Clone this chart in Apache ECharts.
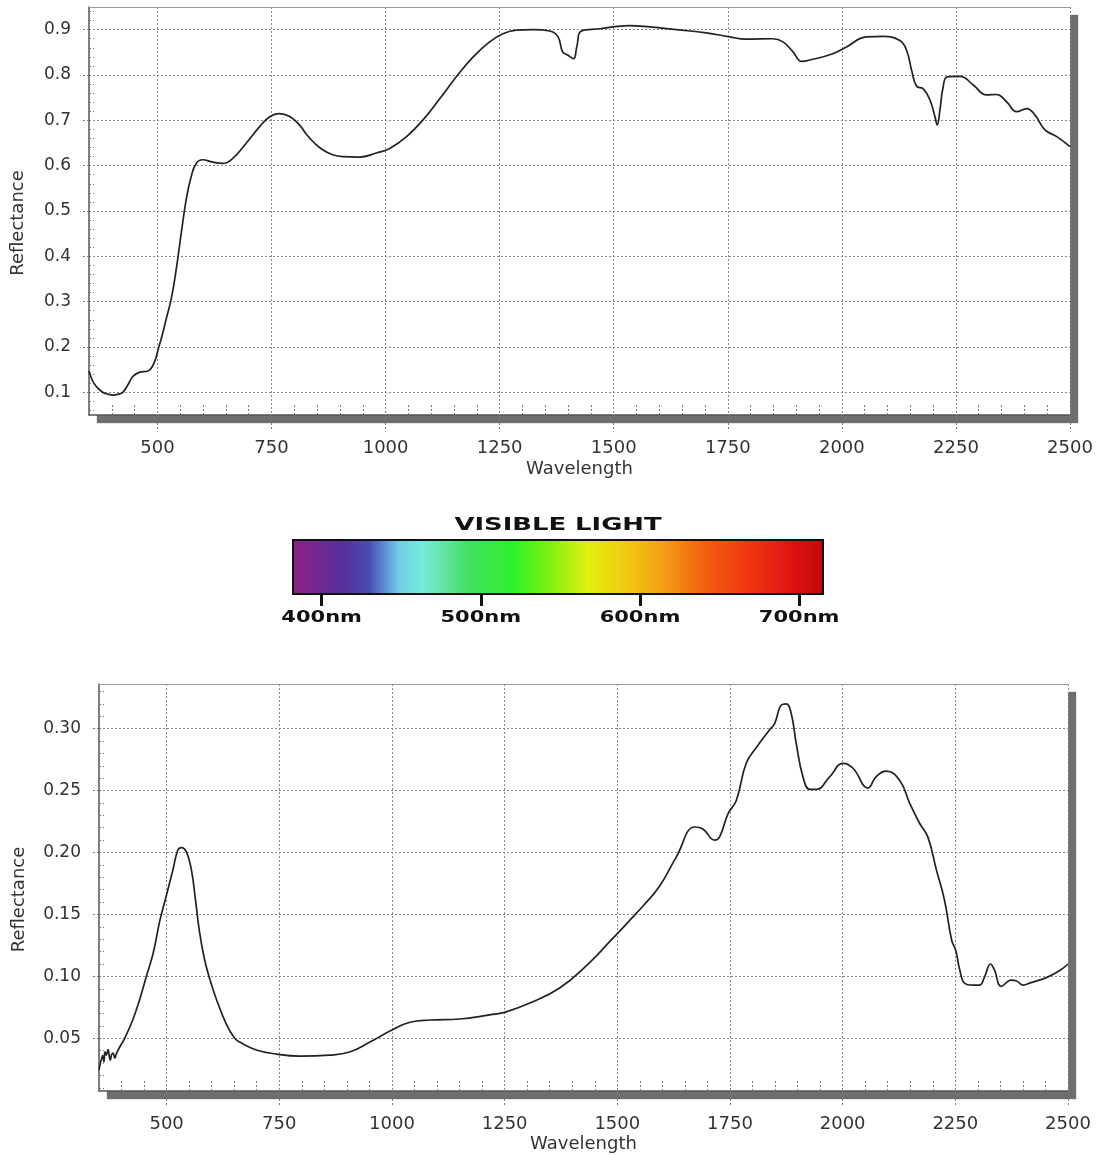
<!DOCTYPE html>
<html><head><meta charset="utf-8">
<script src="https://cdn.jsdelivr.net/npm/echarts@6/dist/echarts.min.js"></script>
<style>html,body{margin:0;padding:0;background:#fff}#c{width:1099px;height:1155px}</style>
</head><body><div id="c"></div>
<script>
// ---------- DATA ----------
const topWavelength = [350,358,366,380,392,402,414,424,436,446,460,479,493,503,511,519,530,541,552,563,574,585,599,621,643,665,694,724,746,767,789,811,826,844,862,884,906,943,980,1009,1046,1082,1119,1155,1192,1228,1257,1287,1323,1360,1378,1388,1399,1412,1419,1429,1470,1498,1535,1579,1637,1703,1754,1790,1849,1871,1893,1912,1930,1980,2010,2054,2090,2127,2142,2153,2164,2178,2193,2204,2209,2215,2222,2231,2259,2288,2317,2339,2361,2383,2405,2423,2445,2471,2500];
const topReflectance = [0.147,0.125,0.113,0.100,0.096,0.094,0.096,0.100,0.118,0.135,0.144,0.147,0.166,0.200,0.228,0.261,0.305,0.370,0.450,0.525,0.576,0.605,0.613,0.608,0.605,0.616,0.649,0.686,0.708,0.715,0.709,0.690,0.670,0.650,0.635,0.624,0.620,0.619,0.628,0.638,0.664,0.701,0.748,0.796,0.840,0.873,0.891,0.899,0.900,0.897,0.884,0.851,0.844,0.836,0.862,0.897,0.902,0.906,0.909,0.906,0.900,0.893,0.884,0.879,0.880,0.873,0.851,0.830,0.833,0.847,0.862,0.884,0.885,0.876,0.854,0.810,0.775,0.770,0.745,0.708,0.690,0.723,0.774,0.796,0.797,0.778,0.756,0.757,0.741,0.719,0.726,0.712,0.679,0.664,0.642];

const bottomWavelength = [350,353,355,358,361,363,366,370,373,375,378,381,385,389,396,407,425,440,455,470,485,500,514,525,533,544,555,564,573,584,594,610,633,651,662,699,744,795,862,906,951,1000,1040,1084,1150,1217,1250,1306,1372,1438,1483,1527,1560,1594,1631,1672,1690,1716,1727,1746,1764,1786,1809,1838,1849,1864,1875,1886,1897,1912,1927,1942,1971,2001,2023,2056,2075,2097,2127,2149,2171,2189,2208,2226,2242,2251,2260,2271,2289,2304,2315,2328,2337,2352,2374,2385,2400,2418,2452,2481,2500];
const bottomReflectance = [0.0245,0.030,0.0325,0.036,0.031,0.039,0.0365,0.041,0.035,0.0325,0.037,0.038,0.034,0.038,0.043,0.050,0.065,0.081,0.100,0.1185,0.145,0.166,0.186,0.202,0.204,0.2005,0.186,0.162,0.136,0.114,0.100,0.082,0.061,0.050,0.047,0.0406,0.0373,0.0357,0.0365,0.039,0.047,0.0567,0.063,0.0648,0.0656,0.069,0.071,0.0785,0.0906,0.111,0.128,0.145,0.158,0.173,0.1965,0.2206,0.219,0.210,0.2126,0.2315,0.242,0.272,0.285,0.299,0.304,0.319,0.320,0.312,0.288,0.261,0.251,0.251,0.261,0.272,0.268,0.252,0.2615,0.2656,0.258,0.2395,0.2234,0.2126,0.186,0.1615,0.129,0.121,0.105,0.0944,0.093,0.093,0.0997,0.110,0.105,0.092,0.097,0.0965,0.093,0.095,0.099,0.1045,0.110];

const xTickLabels = [500,750,1000,1250,1500,1750,2000,2250,2500];
const topYTickLabels = [0.1,0.2,0.3,0.4,0.5,0.6,0.7,0.8,0.9];
const bottomYTickLabels = [0.05,0.10,0.15,0.20,0.25,0.30];
const spectrumTickLabels = [400,500,600,700];
const spectrumStops = [[384,'#8a2386'],[414,'#55309a'],[430,'#4a4cb2'],[439,'#5a86d2'],[449,'#6ecfe2'],[463,'#76e8dc'],[476,'#66e6a6'],[492,'#44e062'],[521,'#2ef02a'],[540,'#72f012'],[567,'#e0f010'],[593,'#f2c612'],[617,'#f29a12'],[639,'#f26212'],[670,'#f03410'],[695,'#e01212'],[714,'#c20808']];

// minor tick positions (axis decoration)
function minorTicks(from, to, step, majorStep) {
  const out = [];
  const n = Math.round((to - from) / step);
  for (let i = 0; i <= n; i++) {
    const v = +(from + i * step).toFixed(4);
    const r = v / majorStep;
    if (Math.abs(r - Math.round(r)) > 1e-6) out.push(v);
  }
  return out;
}
const xMinor = minorTicks(400, 2450, 50, 250);
const topYMinor = minorTicks(0.06, 0.94, 0.02, 0.1);
const bottomYMinor = minorTicks(0.01, 0.33, 0.01, 0.05);

// ---------- CHART ----------
const FONT = 'DejaVu Sans';
const DOT = [2, 2];
const chart = echarts.init(document.getElementById('c'), null, {renderer: 'canvas'});

function mainX(grid, nameGap) {
  return {
    type: 'value', gridIndex: grid, min: 350, max: 2500, position: 'bottom',
    axisLine: {show: true, onZero: false, lineStyle: {color: '#555', width: 1.5}},
    axisTick: {show: true, inside: false, length: 16, customValues: xTickLabels, lineStyle: {color: '#777', type: DOT, width: 1}},
    axisLabel: {customValues: xTickLabels, margin: 24, fontSize: 18, color: '#333', fontFamily: FONT, formatter: v => String(v)},
    splitLine: {show: true, lineStyle: {color: '#888', type: DOT, width: 1}},
    name: 'Wavelength', nameLocation: 'middle', nameGap: nameGap,
    nameTextStyle: {fontSize: 18, color: '#333', fontFamily: FONT}
  };
}
function minorX(grid) {
  return {
    type: 'value', gridIndex: grid, min: 350, max: 2500, position: 'bottom',
    axisLine: {show: false},
    axisTick: {show: true, inside: true, length: 10, customValues: xMinor, lineStyle: {color: '#777', type: DOT, width: 1}},
    axisLabel: {show: false}, splitLine: {show: false}
  };
}
function borderX(grid) {
  return {
    type: 'value', gridIndex: grid, min: 350, max: 2500, position: 'top',
    axisLine: {show: true, onZero: false, lineStyle: {color: '#999', width: 1}},
    axisTick: {show: false}, axisLabel: {show: false}, splitLine: {show: false}
  };
}
function mainY(grid, min, max, ticks, digits, nameGap) {
  return {
    type: 'value', gridIndex: grid, min: min, max: max, position: 'left',
    axisLine: {show: true, onZero: false, lineStyle: {color: '#555', width: 1.5}},
    axisTick: {show: true, inside: false, length: 7, customValues: ticks, lineStyle: {color: '#777', type: DOT, width: 1}},
    axisLabel: {customValues: ticks, margin: 18, fontSize: 17, color: '#333', fontFamily: FONT,
      formatter: v => (+v).toFixed(digits)},
    splitLine: {show: true, lineStyle: {color: '#888', type: DOT, width: 1}},
    name: 'Reflectance', nameLocation: 'middle', nameGap: nameGap,
    nameTextStyle: {fontSize: 18, color: '#333', fontFamily: FONT, padding: [0, 24, 0, 0]}
  };
}
function minorY(grid, min, max, ticks) {
  return {
    type: 'value', gridIndex: grid, min: min, max: max, position: 'left',
    axisLine: {show: false},
    axisTick: {show: true, inside: true, length: 5, customValues: ticks, lineStyle: {color: '#777', type: DOT, width: 1}},
    axisLabel: {show: false}, splitLine: {show: false}
  };
}

const specMin = 382, specMax = 715;
const gradient = new echarts.graphic.LinearGradient(0, 0, 1, 0,
  spectrumStops.map(s => ({offset: (s[0] - specMin) / (specMax - specMin), color: s[1]})));

const plotGrid = {show: true, backgroundColor: '#fff', borderWidth: 0,
  shadowColor: '#6e6e6e', shadowBlur: 1, shadowOffsetX: 8, shadowOffsetY: 8};

const lineStyle = {color: '#222', width: 1.7};

chart.setOption({
  animation: false,
  backgroundColor: '#fff',
  grid: [
    Object.assign({left: 89, top: 7, width: 981, height: 408}, plotGrid),
    {show: true, left: 293, top: 540, width: 530, height: 54, backgroundColor: gradient, borderColor: '#111', borderWidth: 2},
    Object.assign({left: 99, top: 684, width: 969, height: 407}, plotGrid)
  ],
  xAxis: [
    mainX(0, 45),
    minorX(0),
    {type: 'value', gridIndex: 1, min: specMin, max: specMax, position: 'bottom',
      axisLine: {show: false},
      axisTick: {show: true, inside: false, length: 12, customValues: spectrumTickLabels, lineStyle: {color: '#111', width: 3}},
      axisLabel: {show: false}, splitLine: {show: false}},
    mainX(2, 44),
    minorX(2),
    borderX(0),
    borderX(2)
  ],
  yAxis: [
    mainY(0, 0.05, 0.95, topYTickLabels, 1, 62),
    minorY(0, 0.05, 0.95, topYMinor),
    {type: 'value', gridIndex: 1, min: 0, max: 1, show: false},
    mainY(2, 0.0075, 0.336, bottomYTickLabels, 2, 71),
    minorY(2, 0.0075, 0.336, bottomYMinor)
  ],
  series: [
    {type: 'line', xAxisIndex: 0, yAxisIndex: 0, showSymbol: false, smooth: 0.45, silent: true,
      lineStyle: lineStyle,
      data: topWavelength.map((w, i) => [w, topReflectance[i]])},
    {type: 'line', xAxisIndex: 3, yAxisIndex: 3, showSymbol: false, smooth: 0.45, silent: true,
      lineStyle: lineStyle,
      data: bottomWavelength.map((w, i) => [w, bottomReflectance[i]])}
  ]
});

// Spectrum title and tick labels (wide bold lettering), placed via the axis scale
const barBottom = chart.convertToPixel({gridIndex: 1}, [specMin, 0])[1];
const barTop = chart.convertToPixel({gridIndex: 1}, [specMin, 1])[1];
const barMid = chart.convertToPixel({gridIndex: 1}, [(specMin + specMax) / 2, 0])[0];
const g = [{
  type: 'text', x: barMid, y: barTop - 14, scaleX: 1.52, z: 10,
  style: {text: 'VISIBLE LIGHT', font: 'bold 17px "DejaVu Sans"', fill: '#111', align: 'center', verticalAlign: 'middle'}
}];
spectrumTickLabels.forEach(v => {
  const px = chart.convertToPixel({gridIndex: 1}, [v, 0])[0];
  g.push({type: 'text', x: px, y: barBottom + 24, scaleX: 1.4, z: 10,
    style: {text: v + 'nm', font: 'bold 15px "DejaVu Sans"', fill: '#111', align: 'center', verticalAlign: 'middle'}});
});
chart.setOption({graphic: g});
</script>
</body></html>
